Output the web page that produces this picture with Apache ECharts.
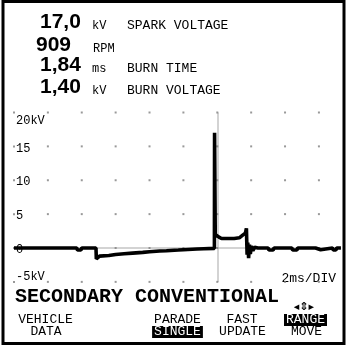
<!DOCTYPE html>
<html>
<head>
<meta charset="utf-8">
<script src="https://cdn.jsdelivr.net/npm/echarts@6/dist/echarts.min.js"></script>
<style>
  html, body { margin: 0; padding: 0; background: #fff; }
  #chart { width: 347px; height: 350px; }
</style>
</head>
<body>
<div id="chart"></div>
<script>
// Secondary ignition waveform, conventional ignition, 2 ms per division.
const sparkVoltage = 17.0;   // kV
const engineRpm = 909;
const burnTime = 1.84;       // ms
const burnVoltage = 1.40;    // kV

// Scope graticule (ms, kV)
const xTicks = [0, 2, 4, 6, 8, 10, 12, 14, 16, 18];
const yTicks = [-5, 0, 5, 10, 15, 20];
const yTickLabels = ['-5kV', '0', '5', '10', '15', '20kV'];
const triggerTime = 12;      // ms, trigger marker

// Captured trace: time (ms) and voltage (kV)
const traceTime = [
  0, 2.0, 3.7, 3.75, 3.95, 4.0, 4.84, 4.86, 4.95, 5.05, 5.6, 6.0, 6.5, 7.0, 7.6,
  8.0, 8.6, 9.0, 9.7, 10.0, 10.8, 11.2, 11.83, 11.84, 11.87, 11.88, 11.95, 12.1,
  12.25, 13.0, 13.3, 13.5, 13.66, 13.72, 13.76, 13.8, 13.85, 13.9, 13.95, 14.02,
  14.1, 14.2, 14.4, 15.0, 15.05, 15.3, 15.35, 16.4, 16.45, 16.7, 16.75, 17.8,
  17.85, 18.1, 18.15, 18.8, 18.85, 19.0, 19.05, 19.3
];
const traceKV = [
  0, 0, 0, -0.3, -0.3, 0, 0, -1.6, -1.5, -1.2, -1.1, -0.95, -0.85, -0.75, -0.65,
  -0.55, -0.45, -0.4, -0.3, -0.25, -0.15, -0.1, -0.05, sparkVoltage, sparkVoltage, 2.0, 1.9, 1.6,
  burnVoltage, burnVoltage, 1.5, 1.9, 2.2, 2.9, -1.0, 0.8, -1.5, 0.5, -0.9, 0.3,
  -0.4, 0.1, 0, 0, -0.3, -0.3, 0, 0, -0.3, -0.3, 0, 0,
  -0.25, -0.25, 0, 0, -0.3, -0.3, 0, 0
];

// Readout lines at the top of the screen
const fmt = (v, d) => v.toFixed(d).replace('.', ',');
const readValues = [fmt(sparkVoltage, 1), String(engineRpm), fmt(burnTime, 2), fmt(burnVoltage, 2)];
const readUnits = ['kV', 'RPM', 'ms', 'kV'];
const readNames = ['SPARK VOLTAGE', '', 'BURN TIME', 'BURN VOLTAGE'];

const title = 'SECONDARY CONVENTIONAL';
const timebase = '2ms/DIV';

const MONO = '"Liberation Mono", "DejaVu Sans Mono", monospace';
const BOLD = '"Liberation Sans", Arial, sans-serif';

const chart = echarts.init(document.getElementById('chart'), null, { renderer: 'canvas' });

const dots = [];
xTicks.forEach(x => yTicks.forEach(y => dots.push([x, y])));

chart.setOption({
  animation: false,
  backgroundColor: '#fff',
  grid: { left: 14, top: 112.5, width: 19.3 * 16.94, height: 25 * 6.775, containLabel: false },
  xAxis: {
    type: 'value', min: 0, max: 19.3,
    axisLine: { show: false }, axisTick: { show: false },
    axisLabel: { show: false }, splitLine: { show: false }
  },
  yAxis: {
    type: 'value', min: -5, max: 20, interval: 5,
    axisLine: { show: false }, axisTick: { show: false },
    axisLabel: { show: false }, splitLine: { show: false }
  },
  series: [
    {
      type: 'scatter', data: dots, symbol: 'rect', symbolSize: 2,
      itemStyle: { color: '#808080' }, silent: true, z: 1
    },
    {
      type: 'line', data: [], silent: true, z: 1,
      markLine: {
        z: 1,
        symbol: 'none', silent: true, label: { show: false },
        lineStyle: { color: '#c4c4c4', width: 1.5, type: 'solid' },
        data: [{ xAxis: triggerTime }, { yAxis: 0 }]
      }
    },
    {
      type: 'line',
      data: traceTime.map((t, i) => [t, traceKV[i]]),
      showSymbol: false, symbol: 'none', clip: true, z: 10,
      lineStyle: { color: '#000', width: 3.6, join: 'bevel' }
    }
  ]
});

// Overlay text: readouts, graticule labels, mode line and soft keys
const g = [];
g.push({ type: 'rect', shape: { x: 3, y: 1.5, width: 341, height: 342 },
  style: { fill: 'none', stroke: '#000', lineWidth: 3 } });

const rowY = [22.5, 45.5, 65.5, 87.5];
const valX = [40, 36, 40, 40];
readValues.forEach((v, i) => {
  g.push({ type: 'text', x: valX[i], y: rowY[i],
    style: { text: v, font: 'bold 21px ' + BOLD, fill: '#000', verticalAlign: 'middle', align: 'left' } });
  g.push({ type: 'text', x: i === 1 ? 93 : 92, y: rowY[i] + 3.5,
    style: { text: readUnits[i], font: '12px ' + MONO, fill: '#000', verticalAlign: 'middle', align: 'left' } });
  if (readNames[i]) {
    g.push({ type: 'text', x: 127, y: rowY[i] + 3.5,
      style: { text: readNames[i], font: '13px ' + MONO, fill: '#000', verticalAlign: 'middle', align: 'left' } });
  }
});

yTicks.forEach((v, i) => {
  const p = chart.convertToPixel({ gridIndex: 0 }, [0, v]);
  const off = v === 20 ? 8 : (v === -5 ? -5 : 2);
  g.push({ type: 'text', x: p[0] + 2, y: p[1] + off,
    style: { text: yTickLabels[i], font: '12px ' + MONO, fill: '#000', verticalAlign: 'middle', align: 'left' } });
});

g.push({ type: 'text', x: 336, y: 278.5,
  style: { text: timebase, font: '13px ' + MONO, fill: '#000', verticalAlign: 'middle', align: 'right' } });

g.push({ type: 'text', x: 15, y: 296.5,
  style: { text: title, font: 'bold 20px ' + MONO, fill: '#000', verticalAlign: 'middle', align: 'left' } });
g.push({ type: 'text', x: 304, y: 307,
  style: { text: '◂⇕▸', font: 'bold 11px "DejaVu Sans", sans-serif', fill: '#000', verticalAlign: 'middle', align: 'center' } });

// Soft keys: [label, centre x, centre y, inverted]
const softKeys = [
  ['VEHICLE', 45.5, 320, false], ['DATA', 46, 332, false],
  ['PARADE', 177.5, 320, false], ['SINGLE', 177.5, 332, true],
  ['FAST', 242, 320, false], ['UPDATE', 242.5, 332, false],
  ['RANGE', 305.5, 320, true], ['MOVE', 306.5, 332, false]
];
softKeys.forEach(([txt, x, y, inv]) => {
  const w = txt.length * 7.8 + 4;
  if (inv) {
    g.push({ type: 'rect', shape: { x: x - w / 2, y: y - 6, width: w, height: 12 }, style: { fill: '#000' } });
  }
  g.push({ type: 'text', x: x, y: y,
    style: { text: txt, font: '13px ' + MONO, fill: inv ? '#fff' : '#000', verticalAlign: 'middle', align: 'center' } });
});

chart.setOption({ graphic: g });
</script>
</body>
</html>
